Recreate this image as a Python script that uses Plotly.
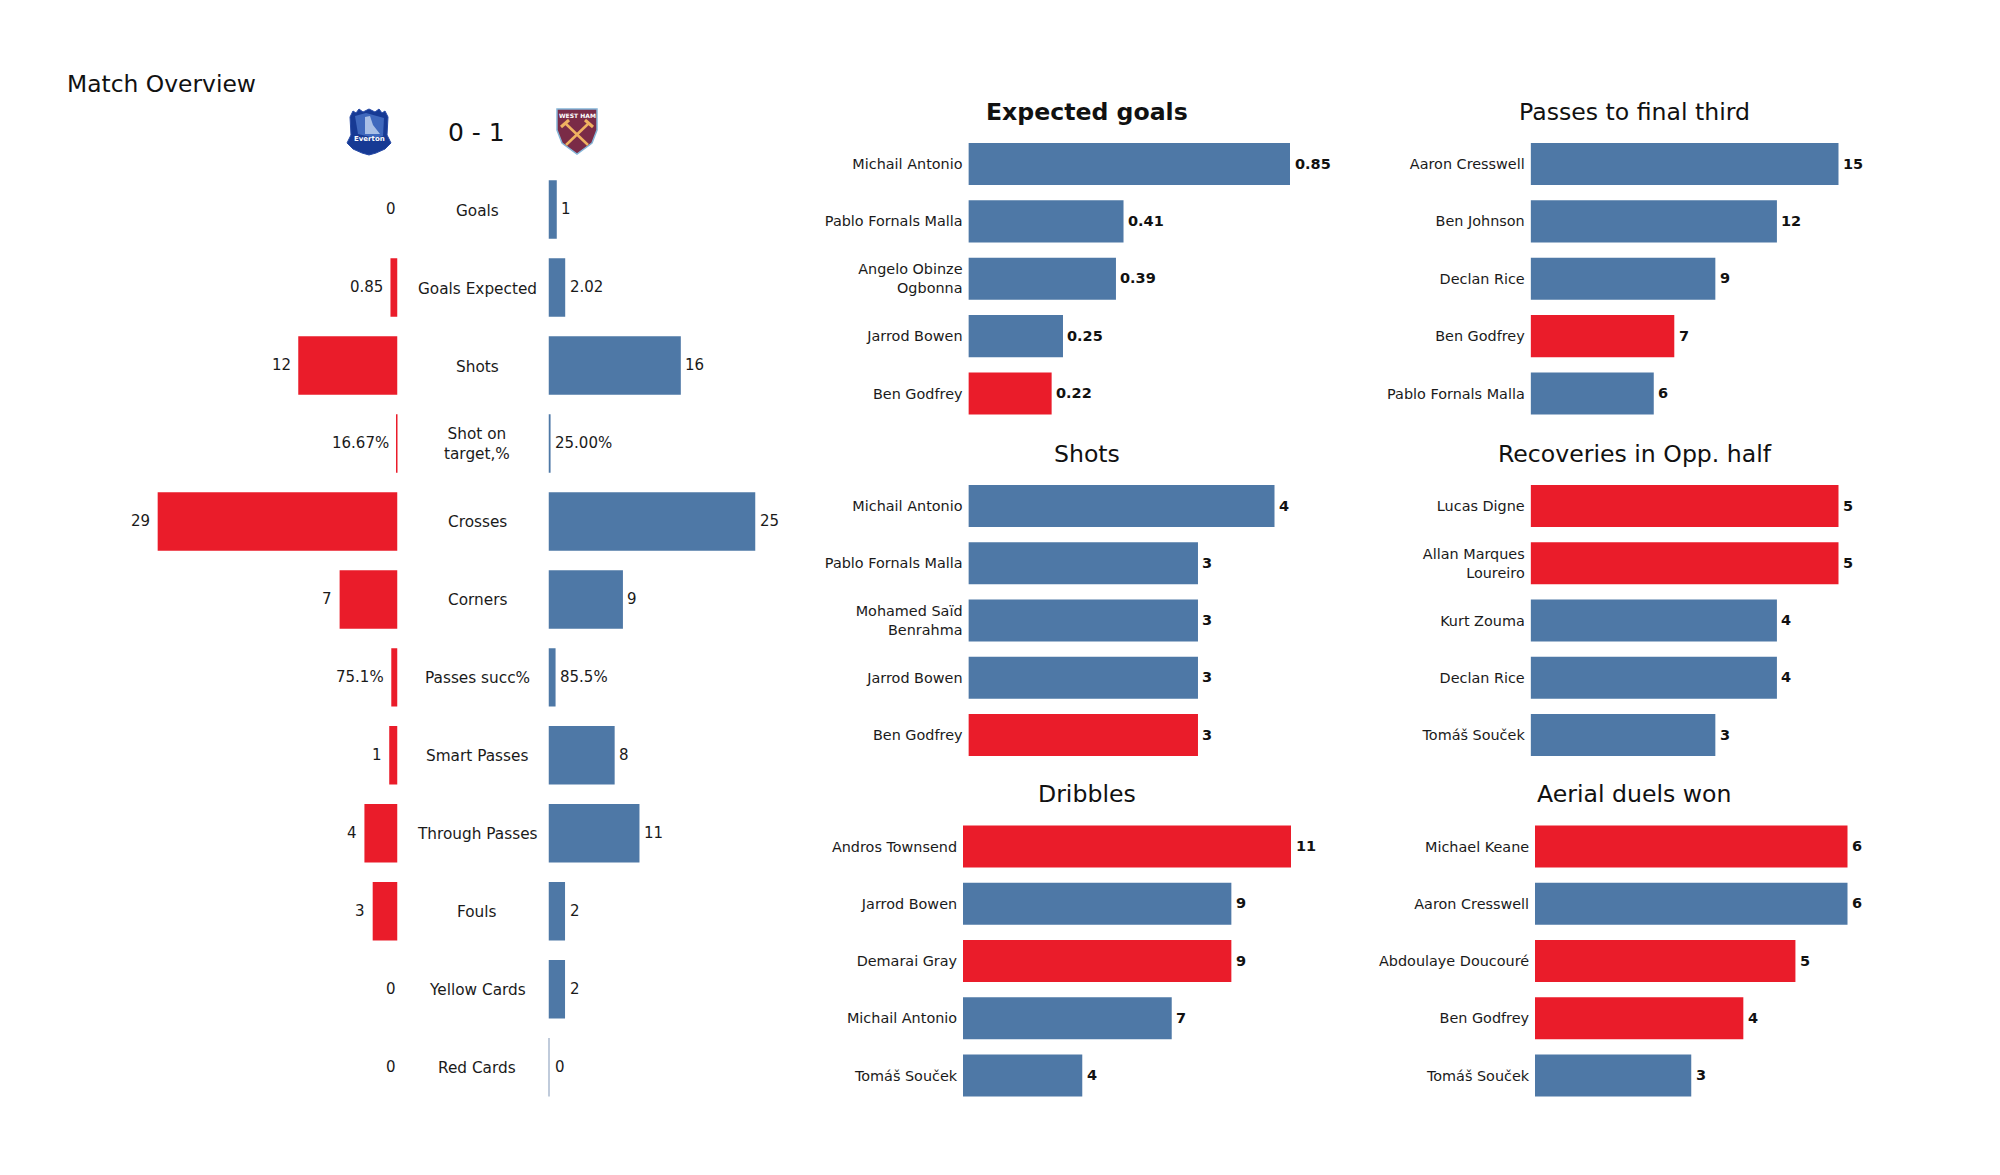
import plotly.graph_objects as go

W, H = 2000, 1175
BLUE = "#4e78a6"
RED = "#ea1c2a"
FONT = "DejaVu Sans"
INK = "#1a1a1a"

# ---- Match overview data ----
metrics = ["Goals", "Goals Expected", "Shots", "Shot on<br>target,%", "Crosses", "Corners",
           "Passes succ%", "Smart Passes", "Through Passes", "Fouls", "Yellow Cards", "Red Cards"]
everton_values = [0, 0.85, 12, 0.1667, 29, 7, 0.751, 1, 4, 3, 0, 0]
everton_labels = ["0", "0.85", "12", "16.67%", "29", "7", "75.1%", "1", "4", "3", "0", "0"]
westham_values = [1, 2.02, 16, 0.25, 25, 9, 0.855, 8, 11, 2, 2, 0]
westham_labels = ["1", "2.02", "16", "25.00%", "25", "9", "85.5%", "8", "11", "2", "2", "0"]

# ---- Player panels data ----
xg_names = ["Michail Antonio", "Pablo Fornals Malla", "Angelo Obinze<br>Ogbonna", "Jarrod Bowen", "Ben Godfrey"]
xg_values = [0.85, 0.41, 0.39, 0.25, 0.22]
xg_teams = ["W", "W", "W", "W", "E"]

final_third_names = ["Aaron Cresswell", "Ben Johnson", "Declan Rice", "Ben Godfrey", "Pablo Fornals Malla"]
final_third_values = [15, 12, 9, 7, 6]
final_third_teams = ["W", "W", "W", "E", "W"]

shots_names = ["Michail Antonio", "Pablo Fornals Malla", "Mohamed Saïd<br>Benrahma", "Jarrod Bowen", "Ben Godfrey"]
shots_values = [4, 3, 3, 3, 3]
shots_teams = ["W", "W", "W", "W", "E"]

recov_names = ["Lucas Digne", "Allan Marques<br>Loureiro", "Kurt Zouma", "Declan Rice", "Tomáš Souček"]
recov_values = [5, 5, 4, 4, 3]
recov_teams = ["E", "E", "W", "W", "W"]

dribble_names = ["Andros Townsend", "Jarrod Bowen", "Demarai Gray", "Michail Antonio", "Tomáš Souček"]
dribble_values = [11, 9, 9, 7, 4]
dribble_teams = ["E", "W", "E", "W", "W"]

aerial_names = ["Michael Keane", "Aaron Cresswell", "Abdoulaye Doucouré", "Ben Godfrey", "Tomáš Souček"]
aerial_values = [6, 6, 5, 4, 3]
aerial_teams = ["E", "W", "E", "E", "W"]


def px(x):
    return x / W


def py(y):
    return 1 - y / H


def poly(points):
    return "M " + " L ".join(f"{px(x):.5f},{py(y):.5f}" for x, y in points) + " Z"


fig = go.Figure()
layout = dict(
    width=W, height=H, margin=dict(l=0, r=0, t=0, b=0, pad=0),
    paper_bgcolor="white", plot_bgcolor="white", showlegend=False,
    font=dict(family=FONT, size=15, color=INK), barmode="overlay",
)
annotations = []
shapes = []


def text_note(x, y, text, size, bold=False, anchor="center"):
    annotations.append(dict(
        xref="paper", yref="paper", x=px(x), y=py(y), text=f"<b>{text}</b>" if bold else text,
        showarrow=False, xanchor=anchor, yanchor="middle", borderpad=0, borderwidth=0,
        font=dict(family=FONT, size=size, color="#111111"),
    ))


def value_note(xref, yref, x, y, text, anchor, xshift, yshift, size, color, weight="normal"):
    annotations.append(dict(
        xref=xref, yref=yref, x=x, y=y, text=text, showarrow=False, xanchor=anchor, yanchor="middle",
        xshift=xshift, yshift=yshift, borderpad=0, borderwidth=0,
        font=dict(family=FONT, size=size, color=color, weight=weight),
    ))


# ---- Left overview: two mirrored value axes sharing a category axis ----
OV_SCALE = 8.27
OV_TOP, OV_BOT = 170.6, 1106.2
ov_left_end, ov_left_start = 397.5, 90.0
ov_right_start, ov_right_end = 548.5, 830.0

layout["yaxis"] = dict(domain=[py(OV_BOT), py(OV_TOP)], anchor="x", type="category",
                       categoryorder="array", categoryarray=metrics, autorange="reversed",
                       visible=False)
layout["xaxis"] = dict(domain=[px(ov_left_start), px(ov_left_end)], anchor="y", visible=False,
                       range=[(ov_left_end - ov_left_start) / OV_SCALE, 0])
layout["xaxis2"] = dict(domain=[px(ov_right_start), px(ov_right_end)], anchor="y", visible=False,
                        range=[0, (ov_right_end - ov_right_start) / OV_SCALE])

fig.add_bar(x=everton_values, y=metrics, orientation="h", xaxis="x", yaxis="y", width=0.75,
            marker=dict(color=RED, line=dict(width=0)), hoverinfo="skip")
fig.add_bar(x=westham_values, y=metrics, orientation="h", xaxis="x2", yaxis="y", width=0.75,
            marker=dict(color=BLUE, line=dict(width=0)), hoverinfo="skip")

for name, v, lab in zip(metrics, everton_values, everton_labels):
    value_note("x", "y", v, name, lab, "right", -7.5 if v > 0 else -1.5, 0.5, 15, INK)
for name, v, lab in zip(metrics, westham_values, westham_labels):
    value_note("x2", "y", v, name, lab, "left", 4.5 if v > 0 else 6.5, 0.5, 15, INK)

# zero-value West Ham bar is drawn as a hairline in the reference
shapes.append(dict(type="line", xref="x2", yref="y", x0=0, x1=0, y0=11 - 0.375, y1=11 + 0.375,
                   line=dict(color="#8198b8", width=2)))

for name in metrics:
    annotations.append(dict(xref="paper", yref="y", x=px(477), y=name, text=name, showarrow=False,
                            xanchor="center", yanchor="middle", align="center", borderpad=0, borderwidth=0,
                            yshift=-1, font=dict(family=FONT, size=15.3, color=INK)))

text_note(67, 84, "Match Overview", 23.4, anchor="left")
text_note(476, 132, "0 - 1", 25)

# ---- Player panels ----
ROW_COLORS = {"W": BLUE, "E": RED}
panels = [
    ("Expected goals", True, xg_names, xg_values, xg_teams, 968.4, 1290.0, 164.0, 393.5, 1087, 112, 2),
    ("Passes to final third", False, final_third_names, final_third_values, final_third_teams, 1530.6, 1838.5, 164.0, 393.5, 1634.5, 112, 0),
    ("Shots", False, shots_names, shots_values, shots_teams, 968.4, 1274.5, 506.0, 735.0, 1087, 454, 0),
    ("Recoveries in Opp. half", False, recov_names, recov_values, recov_teams, 1530.6, 1838.5, 506.0, 735.0, 1634.5, 454, 0),
    ("Dribbles", False, dribble_names, dribble_values, dribble_teams, 963.0, 1291.0, 846.5, 1075.5, 1087, 794, 0),
    ("Aerial duels won", False, aerial_names, aerial_values, aerial_teams, 1535.0, 1847.5, 846.5, 1075.5, 1634.5, 794, 0),
]

for i, (title, bold, names, values, teams, x0, xmax, yc0, yc1, tx, ty, dec) in enumerate(panels):
    n = i + 3
    scale = (xmax - x0) / max(values)
    step = (yc1 - yc0) / 4
    right = xmax + 100
    layout[f"xaxis{n}"] = dict(domain=[px(x0), px(right)], anchor=f"y{n}", visible=False,
                               range=[0, (right - x0) / scale])
    layout[f"yaxis{n}"] = dict(domain=[py(yc1 + step / 2), py(yc0 - step / 2)], anchor=f"x{n}",
                               type="category", categoryorder="array", categoryarray=names,
                               autorange="reversed", showline=False, showgrid=False, zeroline=False,
                               ticks="outside", ticklen=2, tickcolor="white", tickwidth=0,
                               tickfont=dict(family=FONT, size=14.4, color=INK))
    fig.add_bar(x=values, y=names, orientation="h", xaxis=f"x{n}", yaxis=f"y{n}", width=0.735,
                marker=dict(color=[ROW_COLORS[t] for t in teams], line=dict(width=0)),
                hoverinfo="skip")
    for name, v in zip(names, values):
        value_note(f"x{n}", f"y{n}", v, name, f"{v:.{dec}f}", "left", 4.5, 0.5, 14.5, "#111111", "bold")
    text_note(tx, ty, title, 23.6, bold=bold)

# ---- Club crests drawn as vector shapes ----
ev = [(350, 117), (353, 111), (356, 113), (359, 109), (363, 112), (369, 109), (375, 112), (379, 109),
      (382, 113), (385, 111), (388, 117), (387, 135), (391, 143), (385, 149), (376, 153), (369, 155),
      (362, 153), (353, 149), (347, 143), (351, 135)]
shapes.append(dict(type="path", xref="paper", yref="paper", path=poly(ev), fillcolor="#173a94",
                   line=dict(color="#274aa6", width=1)))
shapes.append(dict(type="path", xref="paper", yref="paper",
                   path=poly([(355, 116), (366, 113), (384, 118), (383, 136), (375, 138), (358, 134)]),
                   fillcolor="#3f68bd", line=dict(width=0)))
shapes.append(dict(type="path", xref="paper", yref="paper",
                   path=poly([(365, 117), (370, 116), (373, 125), (380, 134), (365, 134)]),
                   fillcolor="#a9bfe6", line=dict(width=0)))
text_note(369.5, 139.5, "<b>Everton</b>", 7)
annotations[-1]["font"]["color"] = "white"

wh = [(557, 109), (597, 109), (597, 130), (592, 143), (577, 154), (562, 143), (557, 130)]
shapes.append(dict(type="path", xref="paper", yref="paper", path=poly(wh), fillcolor="#7a2b47",
                   line=dict(color="#84b4d6", width=1.5)))
shapes.append(dict(type="line", xref="paper", yref="paper", x0=px(565), y0=py(123), x1=px(588), y1=py(145),
                   line=dict(color="#efb261", width=2.5)))
shapes.append(dict(type="line", xref="paper", yref="paper", x0=px(589), y0=py(123), x1=px(566), y1=py(145),
                   line=dict(color="#efb261", width=2.5)))
shapes.append(dict(type="line", xref="paper", yref="paper", x0=px(561), y0=py(127), x1=px(569), y1=py(120),
                   line=dict(color="#efb261", width=3)))
shapes.append(dict(type="line", xref="paper", yref="paper", x0=px(593), y0=py(127), x1=px(585), y1=py(120),
                   line=dict(color="#efb261", width=3)))
text_note(577, 115, "<b>WEST HAM</b>", 6)
annotations[-1]["font"]["color"] = "white"

layout["annotations"] = annotations
layout["shapes"] = shapes
fig.update_layout(**layout)
fig.write_html("out.html", config={"displayModeBar": False},
               post_script="document.body.style.margin='0';document.body.style.overflow='hidden';")
